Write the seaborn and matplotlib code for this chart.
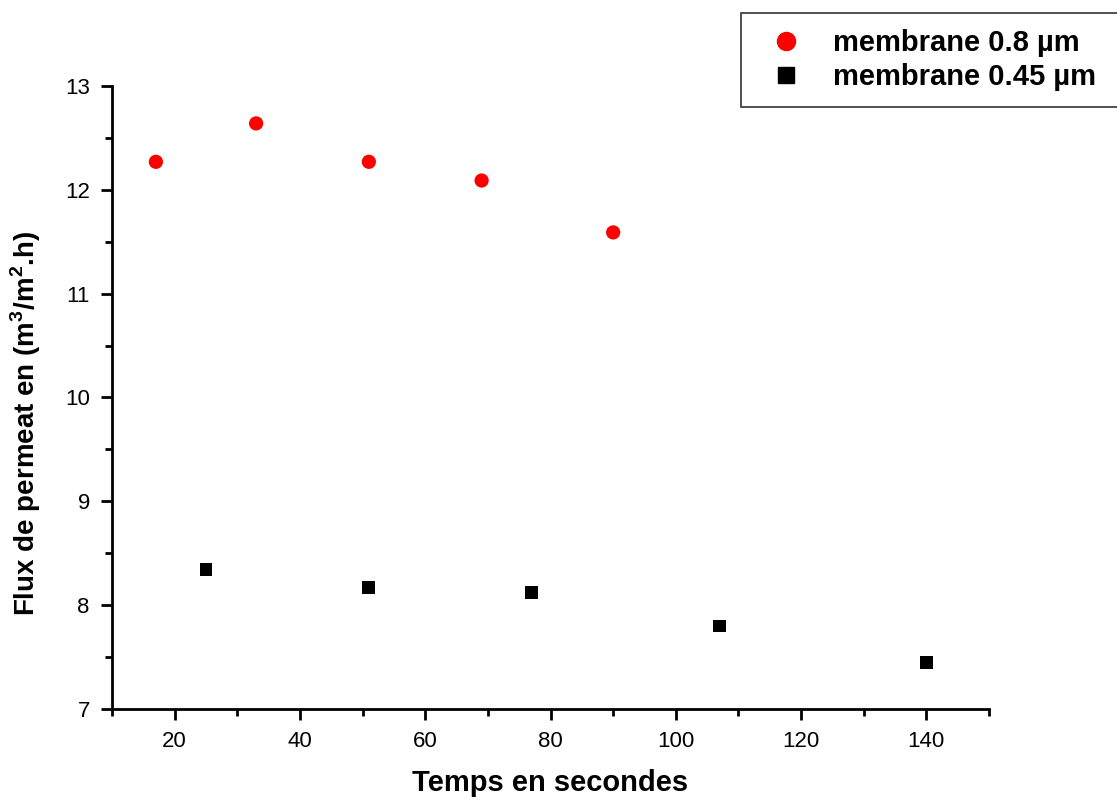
import matplotlib
matplotlib.use("Agg")
import matplotlib.pyplot as plt
import seaborn as sns
from matplotlib.ticker import MultipleLocator
from matplotlib.lines import Line2D

sns.set_style("ticks")
plt.rcParams['font.family'] = ['Liberation Sans', 'DejaVu Sans']
plt.rcParams['text.color'] = 'black'
plt.rcParams['axes.labelcolor'] = 'black'
plt.rcParams['mathtext.fontset'] = 'custom'
plt.rcParams['mathtext.bf'] = 'Liberation Sans:bold'
plt.rcParams['mathtext.rm'] = 'Liberation Sans'

t_08 = [17, 33, 51, 69, 90]
flux_08 = [12.27, 12.64, 12.27, 12.09, 11.59]
t_045 = [25, 51, 77, 107, 140]
flux_045 = [8.34, 8.17, 8.125, 7.80, 7.45]
labels = ["membrane 0.8 µm", "membrane 0.45 µm"]

fig = plt.figure(figsize=(11.17, 8.01), dpi=100)
ax = fig.add_axes([0.1003, 0.1149, 0.7851, 0.7777])

sns.scatterplot(x=t_08, y=flux_08, ax=ax, color="#ff0000", marker="o", s=105,
                edgecolor="none", legend=False)
sns.scatterplot(x=t_045, y=flux_045, ax=ax, color="black", marker="s", s=85,
                edgecolor="none", legend=False)

ax.set_xlim(10, 150)
ax.set_ylim(7, 13)
ax.xaxis.set_major_locator(MultipleLocator(20))
ax.xaxis.set_minor_locator(MultipleLocator(10))
ax.yaxis.set_major_locator(MultipleLocator(1))
ax.yaxis.set_minor_locator(MultipleLocator(0.5))
ax.tick_params(which="major", direction="out", length=8, width=2, labelsize=16,
               colors="black", pad=8)
ax.tick_params(which="minor", direction="out", length=5, width=2, colors="black")
for s in ["top", "right"]:
    ax.spines[s].set_visible(False)
for s in ["left", "bottom"]:
    ax.spines[s].set_linewidth(2)
    ax.spines[s].set_color("black")

ax.set_xlabel("Temps en secondes", fontsize=21, fontweight="bold")
ax.xaxis.set_label_coords(0.5, -0.096)
ax.set_ylabel(r"Flux de permeat en (m$^\mathbf{3}$/m$^\mathbf{2}$.h)", fontsize=20,
              fontweight="bold")
ax.yaxis.set_label_coords(-0.079, 0.458)

handles = [Line2D([], [], marker="o", color="#ff0000", linestyle="none", markersize=13),
           Line2D([], [], marker="s", color="black", linestyle="none", markersize=11)]
leg = fig.legend(handles, labels, loc="upper left", bbox_to_anchor=(0.663, 0.875, 0.34, 0.109),
                 mode="expand", frameon=True, fancybox=False, edgecolor="black",
                 prop={"weight": "bold", "size": 21}, handletextpad=0.62, borderpad=0.55,
                 labelspacing=0.22, handlelength=2.0, borderaxespad=0)
leg.get_frame().set_linewidth(1.2)

fig.savefig("out.png", dpi=100)
